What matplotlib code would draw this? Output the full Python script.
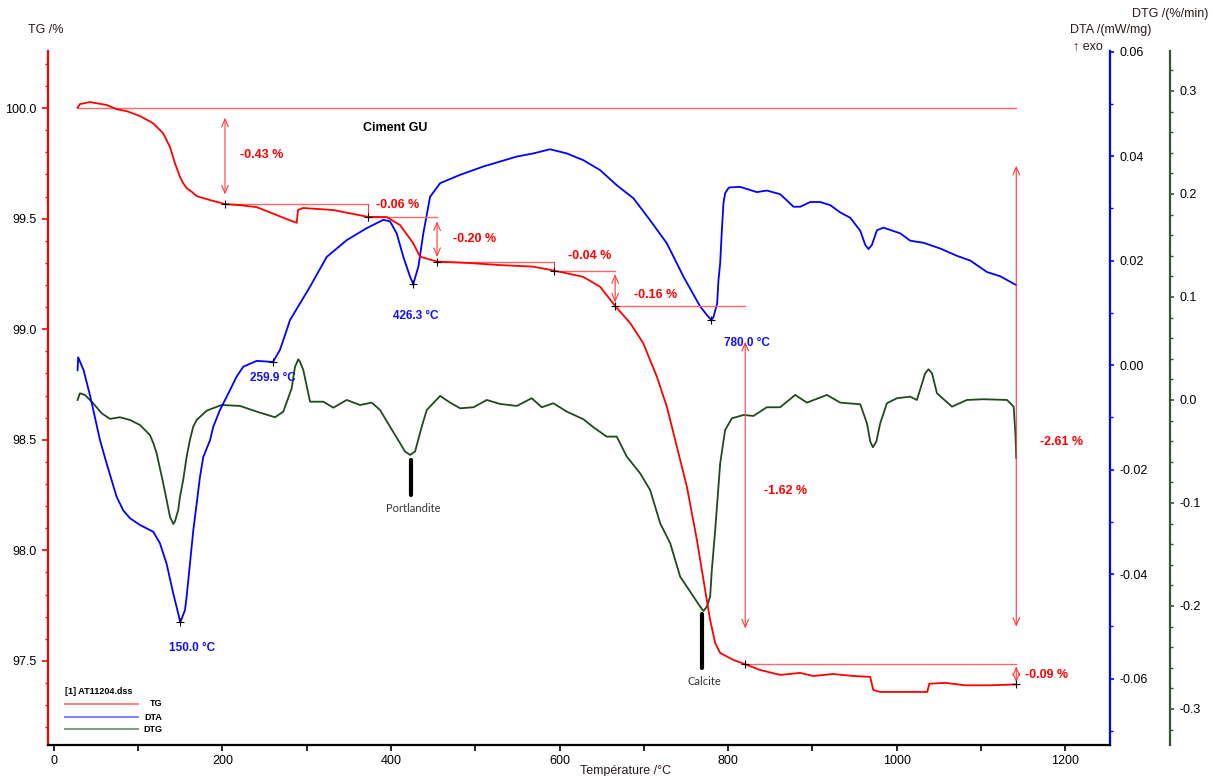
import matplotlib
matplotlib.use("Agg")
import matplotlib.pyplot as plt
from matplotlib.lines import Line2D
from matplotlib.ticker import MultipleLocator, FormatStrFormatter

plt.rcParams["font.family"] = ["Liberation Sans", "DejaVu Sans"]

# TG curve: temperature (°C) / mass (%)
tg_temp = [28.1, 30.9, 42.7, 62.6, 74.4, 86.3, 102.1, 117.5, 129.4, 133.7, 137.7, 143.6,
           149.6, 153.5, 157.5, 163.4, 169.4, 185.2, 203.0, 220.8, 240.6, 259.9, 276.2,
           288.1, 289.6, 295.5, 331.2, 372.7, 394.9, 410.7, 426.1, 434.4, 454.6, 489.9,
           529.4, 568.5, 593.5, 627.9, 648.1, 665.9, 683.7, 699.1, 715.4, 727.2, 739.1,
           751.0, 762.9, 770.7, 778.6, 784.6, 790.5, 806.0, 820.2, 838.0, 861.7, 885.5,
           900.9, 924.6, 948.4, 968.5, 972.1, 980.4, 1004.2, 1036.2, 1038.6, 1057.6,
           1081.3, 1111.0, 1141.8]
tg_mass = [100.001, 100.018, 100.027, 100.014, 99.995, 99.986, 99.964, 99.932, 99.887,
           99.855, 99.824, 99.751, 99.688, 99.660, 99.638, 99.622, 99.602, 99.584, 99.566,
           99.561, 99.552, 99.523, 99.498, 99.481, 99.539, 99.548, 99.539, 99.508, 99.507,
           99.471, 99.390, 99.328, 99.306, 99.300, 99.290, 99.283, 99.265, 99.237, 99.192,
           99.105, 99.028, 98.938, 98.785, 98.650, 98.469, 98.288, 98.047, 97.866, 97.685,
           97.581, 97.536, 97.505, 97.485, 97.459, 97.437, 97.446, 97.432, 97.441, 97.432,
           97.428, 97.369, 97.360, 97.360, 97.360, 97.397, 97.401, 97.390, 97.390, 97.394]

# DTA curve (mW/mg)
dta_temp = [28.1, 28.8, 35.3, 43.3, 54.6, 62.5, 74.4, 82.3, 90.2, 102.1, 117.9, 125.8,
            133.7, 141.6, 145.6, 150.0, 155.5, 157.5, 165.4, 169.4, 173.3, 177.2, 185.2,
            189.1, 197.0, 208.9, 216.8, 224.7, 240.6, 259.9, 268.2, 276.2, 280.1, 303.9,
            323.7, 347.4, 371.1, 390.9, 398.8, 406.7, 414.6, 422.6, 426.3, 432.4, 438.3,
            446.3, 458.2, 481.9, 509.6, 549.2, 568.9, 588.7, 608.5, 628.3, 648.1, 667.9,
            687.7, 707.4, 727.2, 747.0, 766.8, 774.7, 780.0, 782.6, 786.9, 788.5, 790.5,
            792.5, 794.4, 796.4, 800.4, 802.4, 814.2, 834.0, 845.8, 861.7, 877.5, 885.5,
            897.3, 909.2, 921.1, 933.0, 944.8, 956.7, 962.6, 966.5, 970.5, 976.5, 984.3,
            1004.2, 1016.0, 1031.8, 1051.7, 1071.5, 1087.2, 1107.1, 1122.7, 1141.8]
dta_val = [-0.0010, 0.0015, -0.0010, -0.0061, -0.0143, -0.0188, -0.0252, -0.0278, -0.0293,
           -0.0306, -0.0319, -0.0341, -0.0380, -0.0437, -0.0463, -0.0492, -0.0469, -0.0443,
           -0.0316, -0.0265, -0.0214, -0.0176, -0.0144, -0.0118, -0.0086, -0.0048, -0.0022,
           -0.0003, 0.0008, 0.0006, 0.0029, 0.0067, 0.0086, 0.0150, 0.0207, 0.0239, 0.0262,
           0.0278, 0.0275, 0.0252, 0.0207, 0.0169, 0.0155, 0.0188, 0.0252, 0.0322, 0.0348,
           0.0364, 0.0380, 0.0399, 0.0405, 0.0413, 0.0405, 0.0392, 0.0373, 0.0344, 0.0319,
           0.0277, 0.0233, 0.0169, 0.0112, 0.0096, 0.0086, 0.0092, 0.0118, 0.0163, 0.0195,
           0.0258, 0.0310, 0.0329, 0.0339, 0.0340, 0.0341, 0.0331, 0.0334, 0.0327, 0.0303,
           0.0303, 0.0312, 0.0312, 0.0306, 0.0292, 0.0282, 0.0257, 0.0230, 0.0222, 0.0230,
           0.0258, 0.0263, 0.0252, 0.0238, 0.0234, 0.0223, 0.0209, 0.0200, 0.0178, 0.0170,
           0.0153]

# DTG curve (%/min)
dtg_temp = [28.1, 30.9, 36.8, 46.6, 56.6, 66.5, 78.3, 90.2, 102.1, 113.9, 118.0, 121.9,
            129.7, 133.7, 137.7, 141.6, 143.6, 147.5, 149.6, 153.4, 157.5, 161.4, 165.3,
            169.4, 181.2, 199.0, 220.8, 240.6, 262.3, 272.2, 282.1, 286.0, 290.0, 292.0,
            295.9, 303.9, 319.7, 331.5, 347.4, 363.2, 377.1, 386.9, 398.8, 410.7, 416.6,
            422.6, 428.5, 436.4, 442.4, 458.2, 470.1, 482.0, 497.8, 513.6, 529.4, 549.2,
            566.9, 578.8, 592.6, 608.5, 628.3, 640.1, 655.9, 667.8, 679.7, 695.5, 707.4,
            719.3, 731.2, 743.0, 758.8, 766.8, 770.7, 774.7, 778.6, 780.6, 784.6, 790.5,
            796.4, 804.4, 818.2, 830.0, 845.8, 861.7, 879.5, 893.4, 917.1, 933.0, 956.7,
            964.6, 968.6, 971.7, 975.7, 980.4, 988.3, 1000.2, 1016.0, 1023.9, 1033.8,
            1037.7, 1041.8, 1047.7, 1065.5, 1083.3, 1103.0, 1130.8, 1138.7, 1140.7, 1141.8]
dtg_val = [0.0000, 0.0065, 0.0049, -0.0032, -0.0129, -0.0184, -0.0168, -0.0194, -0.0243,
           -0.0340, -0.0420, -0.0518, -0.0809, -0.0970, -0.1133, -0.1204, -0.1180, -0.1068,
           -0.0940, -0.0777, -0.0550, -0.0388, -0.0260, -0.0194, -0.0104, -0.0049, -0.0058,
           -0.0113, -0.0168, -0.0113, 0.0113, 0.0320, 0.0395, 0.0370, 0.0291, -0.0017,
           -0.0017, -0.0075, 0.0000, -0.0049, -0.0026, -0.0097, -0.0259, -0.0420, -0.0500,
           -0.0534, -0.0500, -0.0260, -0.0097, 0.0039, -0.0026, -0.0081, -0.0071, 0.0000,
           -0.0039, -0.0058, 0.0017, -0.0071, -0.0032, -0.0113, -0.0188, -0.0265, -0.0356,
           -0.0356, -0.0550, -0.0712, -0.0874, -0.1197, -0.1391, -0.1715, -0.1909, -0.2007,
           -0.2049, -0.2007, -0.1909, -0.1650, -0.1262, -0.0615, -0.0291, -0.0178, -0.0146,
           -0.0155, -0.0071, -0.0071, 0.0049, -0.0026, 0.0049, -0.0026, -0.0042, -0.0226,
           -0.0405, -0.0459, -0.0405, -0.0226, -0.0032, 0.0017, 0.0032, 0.0000, 0.0260,
           0.0298, 0.0260, 0.0065, -0.0065, 0.0000, 0.0007, 0.0000, -0.0065, -0.0320,
           -0.0563]

# mass-loss steps: start, evaluation points and mass there
tg_start = (28.1, 100.000)
step_temp = [203.0, 372.7, 454.6, 593.5, 665.9, 820.2, 1141.8]
step_mass = [99.566, 99.508, 99.306, 99.265, 99.105, 97.485, 97.394]
step_label_pos = [(220.8, 99.79), (382.0, 99.56), (473.6, 99.41), (610.0, 99.33),
                  (688.4, 99.155), (842.7, 98.27), (1152.5, 97.435)]
total_label_pos = (1170.0, 98.49)

# DTA peak temperatures
peak_temp = [150.0, 259.9, 426.3, 780.0]
peak_dta = [-0.0492, 0.0006, 0.0155, 0.0086]
peak_label_pos = [(163.8, -0.0542), (260.0, -0.0025), (429.7, 0.0094), (822.5, 0.0042)]

# phase markers on DTG
phase_names = ["Portlandite", "Calcite"]
phase_temp = [423.4, 769.1]
phase_top = [-0.0583, -0.2078]
phase_bottom = [-0.0922, -0.2602]

W, H = 1213, 776
RED, BLUE, GREEN = "#ff0000", "#0000ff", "#1e4a1e"

fig = plt.figure(figsize=(W / 100, H / 100), dpi=100)
ax = fig.add_axes([48 / W, 1 - 745 / H, (1110 - 48) / W, (745 - 51) / H])
ax2 = ax.twinx()
ax3 = ax.twinx()

ax.set_xlim(-7, 1253)
ax.set_ylim(97.12, 100.258)
ax2.set_ylim(-0.0727, 0.0601)
ax3.set_ylim(-0.335, 0.3388)

# curves
curve_kw = dict(lw=1.3, zorder=3, solid_joinstyle="round")
ax3.plot(dtg_temp, dtg_val, color=GREEN, **curve_kw)
ax2.plot(dta_temp, dta_val, color=BLUE, **curve_kw)
ax.plot(tg_temp, tg_mass, color=RED, **curve_kw)
ax.set_zorder(3)
ax.patch.set_visible(False)
ax2.set_zorder(2)
ax3.set_zorder(1)

# step evaluation
HLINE = "#ff6666"
ARROW = "#ff3b3b"
ax.plot([tg_start[0], step_temp[-1]], [tg_start[1], tg_start[1]], color=HLINE, lw=1.0)
levels = [tg_start[1]] + step_mass
x_prev = [tg_start[0]] + step_temp[:-1]
arrow_kw = dict(arrowstyle="<->,head_length=0.7,head_width=0.3", color=ARROW, lw=0.8,
                shrinkA=0, shrinkB=0, mutation_scale=8)


def step_arrow(x, top, bottom):
    d = top - bottom
    if d < 0.07:
        ax.plot([x, x], [top, bottom], color=ARROW, lw=0.8)
    else:
        ax.annotate("", xy=(x, bottom + 0.1 * d), xytext=(x, top - 0.1 * d),
                    arrowprops=arrow_kw)


for k, (t, m) in enumerate(zip(step_temp, step_mass)):
    if k > 0:
        ax.plot([x_prev[k], t], [levels[k], levels[k]], color=HLINE, lw=1.0)
    step_arrow(t, levels[k], m)
    lx, ly = step_label_pos[k]
    ax.text(lx, ly, f"{m - levels[k]:.2f} %", color=RED, fontsize=9, fontweight="bold",
            ha="left", va="center")

step_arrow(step_temp[-1], tg_start[1], step_mass[-1])
ax.text(*total_label_pos, f"{step_mass[-1] - tg_start[1]:.2f} %", color=RED, fontsize=9,
        fontweight="bold", ha="left", va="center")
ax.plot(step_temp, step_mass, ls="none", marker="+", ms=6, mew=0.8, color="black", zorder=5)

# DTA peaks
ax2.plot(peak_temp, peak_dta, ls="none", marker="+", ms=6, mew=0.8, color="black", zorder=5)
for t, (lx, ly) in zip(peak_temp, peak_label_pos):
    ax2.text(lx, ly, f"{t:.1f} °C", color="#1010ff", fontsize=8.5, fontweight="bold",
             ha="center", va="center")

# phase bars
for name, t, y0, y1 in zip(phase_names, phase_temp, phase_top, phase_bottom):
    ax3.plot([t, t], [y0, y1], color="black", lw=3, solid_capstyle="round")
    ax3.text(t + 3, y1 - 0.008, name, family=["Lato", "DejaVu Sans"], fontsize=8,
             color="#333333", ha="center", va="top")

ax.text(404.7, 99.91, "Ciment GU", fontsize=9, fontweight="bold", ha="center", va="center")

# spines and ticks
for s in ["top", "right"]:
    ax.spines[s].set_visible(False)
ax.spines["left"].set_color(RED)
ax.spines["left"].set_linewidth(1.6)
ax.spines["bottom"].set_color("black")
ax.spines["bottom"].set_linewidth(1.6)
for s in ["top", "left", "bottom"]:
    ax2.spines[s].set_visible(False)
    ax3.spines[s].set_visible(False)
ax2.spines["right"].set_color(BLUE)
ax2.spines["right"].set_linewidth(1.6)
ax3.spines["right"].set_position(("axes", (1170 - 48) / (1110 - 48)))
ax3.spines["right"].set_color("#2f5a2f")
ax3.spines["right"].set_linewidth(1.6)

ax.xaxis.set_major_locator(MultipleLocator(200))
ax.xaxis.set_minor_locator(MultipleLocator(100))
ax.yaxis.set_major_locator(MultipleLocator(0.5))
ax.yaxis.set_minor_locator(MultipleLocator(0.1))
ax.yaxis.set_major_formatter(FormatStrFormatter("%.1f"))
ax2.yaxis.set_major_locator(MultipleLocator(0.02))
ax2.yaxis.set_minor_locator(MultipleLocator(0.01))
ax2.yaxis.set_major_formatter(FormatStrFormatter("%.2f"))
ax3.yaxis.set_major_locator(MultipleLocator(0.1))
ax3.yaxis.set_minor_locator(MultipleLocator(0.02))
ax3.yaxis.set_major_formatter(FormatStrFormatter("%.1f"))

ax.tick_params(axis="x", which="major", direction="out", length=4, width=1.2,
               labelsize=9, pad=3)
ax.tick_params(axis="x", which="minor", direction="out", length=4, width=1.2)
ax.tick_params(axis="y", which="major", direction="out", length=4, width=1.2, color=RED,
               labelsize=9, pad=4)
ax.tick_params(axis="y", which="minor", direction="out", length=2, width=1, color=RED)
ax2.tick_params(axis="y", which="major", direction="out", length=3, width=1.2, color=BLUE,
                labelsize=9, pad=4)
ax2.tick_params(axis="y", which="minor", direction="out", length=2, width=1, color=BLUE)
ax3.tick_params(axis="y", which="major", direction="out", length=3, width=1.2,
                color="#2f5a2f", labelsize=9, pad=4)
ax3.tick_params(axis="y", which="minor", direction="out", length=2, width=1, color="#2f5a2f")

# axis titles
lab = "#2a1a1a"
fig.text(28 / W, 1 - 30 / H, "TG /%", fontsize=9, color=lab, va="center")
fig.text(1070 / W, 1 - 30 / H, "DTA /(mW/mg)", fontsize=9, color=lab, va="center")
fig.text(1073 / W, 1 - 46 / H, "↑ exo", fontsize=9, color=lab, va="center")
fig.text(1132 / W, 1 - 14 / H, "DTG /(%/min)", fontsize=9, color=lab, va="center")
fig.text(626 / W, 1 - 771 / H, "Température /°C", fontsize=9, color=lab,
         ha="center", va="center")

# legend
fig.text(65 / W, 1 - 692 / H, "[1] AT11204.dss", fontsize=6.5, fontweight="bold",
         va="center")
for yy, name, c in [(704, "TG", "#ff7f7f"), (717, "DTA", "#7f7fff"), (729, "DTG", "#7f9a7f")]:
    fig.add_artist(Line2D([65 / W, 138 / W], [1 - yy / H] * 2, transform=fig.transFigure,
                          color=c, lw=1.4))
    fig.text(162 / W, 1 - yy / H, name, fontsize=6.5, fontweight="bold", ha="right",
             va="center")

fig.savefig("out.png", dpi=100)
